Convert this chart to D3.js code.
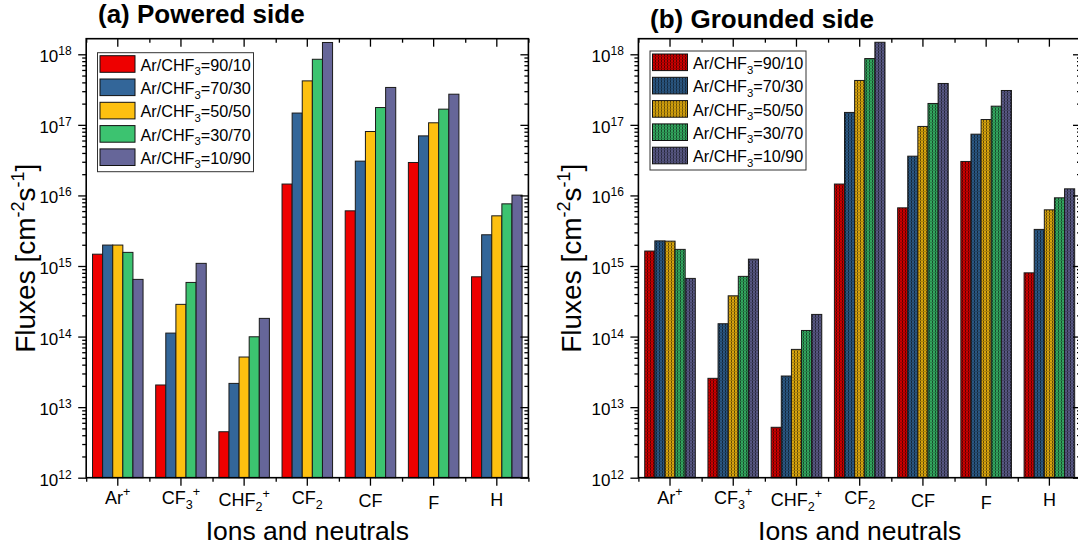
<!DOCTYPE html>
<html>
<head>
<meta charset="utf-8">
<script src="https://cdn.jsdelivr.net/npm/d3@7"></script>
<style>
  body { margin: 0; background: #fff; }
  svg { display: block; }
  text { font-family: Arial, "Liberation Sans", sans-serif; fill: #000; }
</style>
</head>
<body>
<svg id="chart" width="1078" height="550"></svg>
<script>
// Species on the x axis ("_" = subscript char, "^" = superscript char)
const categories = ["Ar^+", "CF_3^+", "CHF_2^+", "CF_2", "CF", "F", "H"];
// Gas mixtures (Ar/CHF3 ratio)
const mixtures = ["90/10", "70/30", "50/50", "30/70", "10/90"];
const mixtureColors = ["#ee0000", "#336699", "#fdc010", "#3cc370", "#666699"];
// Decade exponents for the log y axis
const yTickExponents = [12, 13, 14, 15, 16, 17, 18];

// Powered side fluxes [cm^-2 s^-1], one array per mixture, in category order
const powered90_10 = [1.47e15, 2.06e13, 4.48e12, 1.45e16, 6.05e15, 2.93e16, 7.03e14];
const powered70_30 = [1.98e15, 1.12e14, 2.17e13, 1.47e17, 3.06e16, 6.98e16, 2.77e15];
const powered50_50 = [1.98e15, 2.86e14, 5.13e13, 4.20e17, 8.05e16, 1.07e17, 5.14e15];
const powered30_70 = [1.56e15, 5.85e14, 9.93e13, 8.50e17, 1.76e17, 1.67e17, 7.60e15];
const powered10_90 = [6.46e14, 1.09e15, 1.81e14, 1.47e18, 3.39e17, 2.72e17, 1.01e16];

// Grounded side fluxes [cm^-2 s^-1]
const grounded90_10 = [1.63e15, 2.56e13, 5.18e12, 1.45e16, 6.67e15, 3.03e16, 8.00e14];
const grounded70_30 = [2.27e15, 1.52e14, 2.76e13, 1.50e17, 3.60e16, 7.38e16, 3.30e15];
const grounded50_50 = [2.25e15, 3.78e14, 6.58e13, 4.26e17, 9.50e16, 1.19e17, 6.25e15];
const grounded30_70 = [1.72e15, 7.13e14, 1.22e14, 8.70e17, 2.01e17, 1.84e17, 9.25e15];
const grounded10_90 = [6.67e14, 1.25e15, 2.06e14, 1.48e18, 3.86e17, 3.07e17, 1.24e16];

const svg = d3.select("#chart");

// Small dotted-grid fill used for the grounded-side bars
const defs = svg.append("defs");
mixtureColors.forEach((c, i) => {
  const p = defs.append("pattern")
    .attr("id", "mesh" + i)
    .attr("patternUnits", "userSpaceOnUse")
    .attr("width", 3).attr("height", 3);
  p.append("rect").attr("width", 3).attr("height", 3).attr("fill", d3.color(c).darker(0.45));
  p.append("rect").attr("x", 2).attr("width", 1).attr("height", 2)
    .attr("fill", "#000").attr("fill-opacity", 0.55).attr("shape-rendering", "crispEdges");
  p.append("rect").attr("y", 2).attr("width", 3).attr("height", 1)
    .attr("fill", "#000").attr("fill-opacity", 0.2).attr("shape-rendering", "crispEdges");
});

// Writes "CF_3^+" style strings as tspans with sub/superscripts
function richText(textSel, str, size) {
  const segs = [];
  for (let i = 0; i < str.length; i++) {
    const ch = str[i];
    if ((ch === "_" || ch === "^") && i + 1 < str.length) {
      segs.push({ t: str[i + 1], kind: ch === "_" ? "sub" : "sup" });
      i++;
    } else {
      const last = segs[segs.length - 1];
      if (last && last.kind === "normal") last.t += ch;
      else segs.push({ t: ch, kind: "normal" });
    }
  }
  let shift = 0;
  segs.forEach(s => {
    const target = s.kind === "sup" ? -0.42 * size : s.kind === "sub" ? 0.28 * size : 0;
    textSel.append("tspan")
      .attr("dy", target - shift)
      .attr("font-size", s.kind === "normal" ? size : size * 0.7)
      .text(s.t);
    shift = target;
  });
}

const plotTop = 38.7, plotBottom = 477.7;
const yMax = Math.pow(10, 18.221);
const y = d3.scaleLog().domain([1e12, yMax]).range([plotBottom, plotTop]);

const minorY = [];
yTickExponents.forEach(e => {
  for (let m = 2; m <= 9; m++) {
    const v = m * Math.pow(10, e);
    if (v < yMax) minorY.push(v);
  }
});

// Small vertical nudges of the species labels
const labelNudge = [0, -0.5, 1.5, 0, 3.3, 5, 1.7];

const panels = [
  {
    title: "(a) Powered side", titleX: 98, titleY: 23,
    left: 86.2, right: 528.4, legendX: 97.5, legendY: 52.7, yTitleX: 35,
    series: [powered90_10, powered70_30, powered50_50, powered30_70, powered10_90],
    mesh: false
  },
  {
    title: "(b) Grounded side", titleX: 650, titleY: 27.5,
    left: 638.4, right: 1081, legendX: 650, legendY: 51, yTitleX: 581,
    series: [grounded90_10, grounded70_30, grounded50_50, grounded30_70, grounded10_90],
    mesh: true
  }
];

panels.forEach(P => {
  const g = svg.append("g");
  const x0 = d3.scaleBand().domain(categories).range([P.left, P.right])
    .paddingInner(0.2).paddingOuter(0.1);
  const x1 = d3.scaleBand().domain(d3.range(mixtures.length)).range([0, x0.bandwidth()]);
  const step = x0.step();
  const bounds = d3.range(categories.length + 1).map(i => P.left + i * step);
  const xb = d3.scaleLinear().domain([P.left, P.right]).range([P.left, P.right]);

  // bars
  P.series.forEach((vals, si) => {
    g.append("g").selectAll("rect").data(vals).join("rect")
      .attr("x", (d, i) => x0(categories[i]) + x1(si))
      .attr("y", d => y(d))
      .attr("width", x1.bandwidth())
      .attr("height", d => plotBottom - y(d))
      .attr("fill", P.mesh ? `url(#mesh${si})` : mixtureColors[si])
      .attr("stroke", "#1a1a1a").attr("stroke-width", 1);
  });

  // frame
  g.append("rect")
    .attr("x", P.left).attr("y", plotTop)
    .attr("width", P.right - P.left).attr("height", plotBottom - plotTop)
    .attr("fill", "none").attr("stroke", "#000").attr("stroke-width", 1.6);

  const styleAxis = a => {
    a.select(".domain").remove();
    a.selectAll("line").attr("stroke", "#000").attr("stroke-width", 1.3);
  };

  // bottom axis: major at species, minor at group boundaries (outward)
  g.append("g").attr("transform", `translate(0,${plotBottom})`)
    .call(d3.axisBottom(x0).tickSizeOuter(0).tickSize(8).tickFormat(""))
    .call(styleAxis);
  g.append("g").attr("transform", `translate(0,${plotBottom})`)
    .call(d3.axisBottom(xb).tickValues(bounds).tickSize(4).tickFormat(""))
    .call(styleAxis);
  // top axis (inward)
  g.append("g").attr("transform", `translate(0,${plotTop})`)
    .call(d3.axisBottom(x0).tickSizeOuter(0).tickSize(8).tickFormat(""))
    .call(styleAxis);
  g.append("g").attr("transform", `translate(0,${plotTop})`)
    .call(d3.axisBottom(xb).tickValues(bounds).tickSize(4).tickFormat(""))
    .call(styleAxis);

  // left axis (outward)
  g.append("g").attr("transform", `translate(${P.left},0)`)
    .call(d3.axisLeft(y).tickValues(yTickExponents.map(e => Math.pow(10, e))).tickSize(8).tickFormat(""))
    .call(styleAxis);
  g.append("g").attr("transform", `translate(${P.left},0)`)
    .call(d3.axisLeft(y).tickValues(minorY).tickSize(4).tickFormat(""))
    .call(styleAxis);
  // right axis (inward)
  g.append("g").attr("transform", `translate(${P.right},0)`)
    .call(d3.axisLeft(y).tickValues(yTickExponents.map(e => Math.pow(10, e))).tickSize(8).tickFormat(""))
    .call(styleAxis);
  g.append("g").attr("transform", `translate(${P.right},0)`)
    .call(d3.axisLeft(y).tickValues(minorY).tickSize(4).tickFormat(""))
    .call(styleAxis);

  // y tick labels 10^n
  yTickExponents.forEach(e => {
    const t = g.append("text")
      .attr("x", P.left - 14.5)
      .attr("y", y(Math.pow(10, e)) + 8)
      .attr("text-anchor", "end")
      .attr("font-size", 17);
    t.append("tspan").text("10");
    t.append("tspan").attr("dy", -7).attr("font-size", 12).text(e);
  });

  // species labels
  categories.forEach((c, i) => {
    const t = g.append("text")
      .attr("x", x0(c) + x0.bandwidth() / 2)
      .attr("y", 504 + labelNudge[i])
      .attr("text-anchor", "middle");
    richText(t, c, 18);
  });

  // axis titles
  g.append("text")
    .attr("x", (P.left + P.right) / 2)
    .attr("y", 540)
    .attr("text-anchor", "middle")
    .attr("font-size", 26.5)
    .text("Ions and neutrals");

  const yt = g.append("text")
    .attr("transform", `translate(${P.yTitleX},${(plotTop + plotBottom) / 2}) rotate(-90)`)
    .attr("text-anchor", "middle")
    .attr("font-size", 28);
  yt.append("tspan").text("Fluxes [cm");
  yt.append("tspan").attr("dy", -11).attr("font-size", 18).text("-2");
  yt.append("tspan").attr("dy", 11).text("s");
  yt.append("tspan").attr("dy", -11).attr("font-size", 18).text("-1");
  yt.append("tspan").attr("dy", 11).text("]");

  // panel title
  g.append("text")
    .attr("x", P.titleX).attr("y", P.titleY)
    .attr("font-size", 26).attr("font-weight", "bold")
    .text(P.title);

  // legend
  const lg = g.append("g").attr("transform", `translate(${P.legendX},${P.legendY})`);
  lg.append("rect").attr("width", 156).attr("height", 119)
    .attr("fill", "#fff").attr("stroke", "#333").attr("stroke-width", 1);
  mixtures.forEach((m, i) => {
    const row = lg.append("g").attr("transform", `translate(0,${3 + i * 23.3})`);
    row.append("rect").attr("x", 2.5).attr("width", 35).attr("height", 16.6)
      .attr("fill", P.mesh ? `url(#mesh${i})` : mixtureColors[i])
      .attr("stroke", "#111").attr("stroke-width", 1);
    const t = row.append("text").attr("x", 43).attr("y", 15);
    richText(t, "Ar/CHF_3=" + m, 16.2);
  });
});
</script>
</body>
</html>
